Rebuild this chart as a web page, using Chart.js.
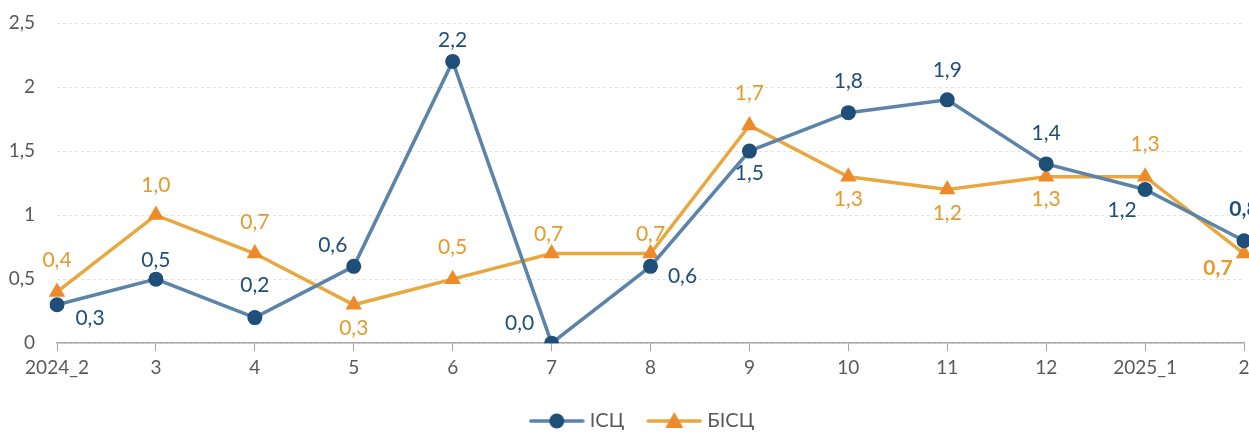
<!DOCTYPE html>
<html>
<head>
<meta charset="utf-8">
<script src="https://cdn.jsdelivr.net/npm/chart.js@4/dist/chart.umd.min.js"></script>
<style>
  html, body { margin: 0; padding: 0; background: #fff; overflow: hidden; }
  #wrap { width: 1256px; height: 433px; }
</style>
</head>
<body>
<div id="wrap"><canvas id="chart" width="1256" height="433"></canvas></div>
<script>
// categories and series
const periods = ['2024_2', '3', '4', '5', '6', '7', '8', '9', '10', '11', '12', '2025_1', '2'];
const iscValues = [0.3, 0.5, 0.2, 0.6, 2.2, 0.0, 0.6, 1.5, 1.8, 1.9, 1.4, 1.2, 0.8];
const biscValues = [0.4, 1.0, 0.7, 0.3, 0.5, 0.7, 0.7, 1.7, 1.3, 1.2, 1.3, 1.3, 0.7];
const yTicks = [0, 0.5, 1, 1.5, 2, 2.5];

// label placement for each point: [dx, dy] from the marker
const iscLabelShift = [[33, 13], [0, -19], [0, -32], [-21, -21], [0, -21], [-32, -20], [32, 10], [0, 22], [0, -31], [0, -30], [0, -31], [-23, 21], [0, -32]];
const biscLabelShift = [[0, -32], [0, -30], [0, -31], [0, 23], [0, -32], [-3, -19], [0, -19], [0, -32], [0, 23], [0, 24], [0, 23], [0, -32], [-26, 15]];

const FONT = 'Lato, "Noto Sans", sans-serif';
const comma = v => v.toFixed(1).replace('.', ',');

// legend symbol: short line with marker in the middle
function legendSymbol(lineColor, markerColor, shape) {
  const c = document.createElement('canvas');
  c.width = 56; c.height = 20;
  const g = c.getContext('2d');
  g.strokeStyle = lineColor;
  g.lineWidth = 3.5;
  g.lineCap = 'round';
  g.beginPath(); g.moveTo(2, 10); g.lineTo(54, 10); g.stroke();
  g.fillStyle = markerColor;
  g.beginPath();
  if (shape === 'circle') {
    g.arc(28, 10, 7.5, 0, Math.PI * 2);
  } else {
    g.moveTo(28, 1); g.lineTo(37, 17); g.lineTo(19, 17); g.closePath();
  }
  g.fill();
  return c;
}

const pointLabels = {
  id: 'pointLabels',
  afterLayout(chart) {
    // nudge legend a bit right, like the original
    chart.legend.left += 22;
    chart.legend.right += 22;
  },
  afterDatasetsDraw(chart) {
    const ctx = chart.ctx;
    const shifts = [iscLabelShift, biscLabelShift];
    const colors = ['#1f4e79', '#e39b2d'];
    chart.data.datasets.forEach((ds, di) => {
      const meta = chart.getDatasetMeta(di);
      meta.data.forEach((pt, i) => {
        const last = i === ds.data.length - 1;
        ctx.save();
        ctx.font = (last ? 'bold ' : '') + '21px ' + FONT;
        ctx.fillStyle = colors[di];
        ctx.textAlign = 'center';
        ctx.textBaseline = 'middle';
        ctx.fillText(comma(ds.data[i]), pt.x + shifts[di][i][0], pt.y + shifts[di][i][1]);
        ctx.restore();
      });
    });
  }
};

new Chart(document.getElementById('chart'), {
  type: 'line',
  data: {
    labels: periods,
    datasets: [
      {
        label: 'ІСЦ',
        data: iscValues,
        borderColor: '#5b84a8',
        borderWidth: 3.5,
        pointStyle: 'circle',
        pointRadius: 7.5,
        pointBackgroundColor: '#1f4e79',
        pointBorderColor: '#1f4e79',
        pointBorderWidth: 0,
        tension: 0
      },
      {
        label: 'БІСЦ',
        data: biscValues,
        borderColor: '#e8a83f',
        borderWidth: 3.5,
        pointStyle: 'triangle',
        pointRadius: 9.5,
        pointBackgroundColor: '#ed8a2c',
        pointBorderColor: '#ed8a2c',
        pointBorderWidth: 0,
        tension: 0
      }
    ]
  },
  options: {
    responsive: false,
    animation: false,
    devicePixelRatio: 1,
    layout: { padding: { top: 23, right: 12, left: 0, bottom: -8 } },
    scales: {
      x: {
        offset: false,
        grid: { display: true, drawOnChartArea: false, drawTicks: true, tickLength: 8, color: '#a6a6a6' },
        border: { color: '#a6a6a6', width: 1.5 },
        ticks: { color: '#595959', font: { family: FONT, size: 19 }, padding: 5, maxRotation: 0, autoSkip: false }
      },
      y: {
        min: 0,
        max: 2.5,
        afterBuildTicks: scale => { scale.ticks = yTicks.map(v => ({ value: v })); },
        afterFit: scale => {
          scale.width = 57;
          // tick padding is horizontal only here, drop the vertical share
          scale.paddingTop = 0;
          scale.paddingBottom = 0;
        },
        grid: { color: '#e3e3e3', drawTicks: false },
        border: { display: false, dash: [3, 3] },
        ticks: {
          color: '#595959',
          font: { family: FONT, size: 19 },
          padding: 22,
          callback: v => String(v).replace('.', ',')
        }
      }
    },
    plugins: {
      tooltip: { enabled: false },
      legend: {
        position: 'bottom',
        labels: {
          color: '#595959',
          font: { family: FONT, size: 20 },
          usePointStyle: true,
          pointStyleWidth: 46,
          padding: 27,
          generateLabels: chart => [
            { text: 'ІСЦ', pointStyle: legendSymbol('#5b84a8', '#1f4e79', 'circle'), datasetIndex: 0, fontColor: '#595959', lineWidth: 0, strokeStyle: 'transparent', fillStyle: 'transparent' },
            { text: 'БІСЦ', pointStyle: legendSymbol('#e8a83f', '#ed8a2c', 'triangle'), datasetIndex: 1, fontColor: '#595959', lineWidth: 0, strokeStyle: 'transparent', fillStyle: 'transparent' }
          ]
        }
      }
    }
  },
  plugins: [pointLabels]
});
</script>
</body>
</html>
